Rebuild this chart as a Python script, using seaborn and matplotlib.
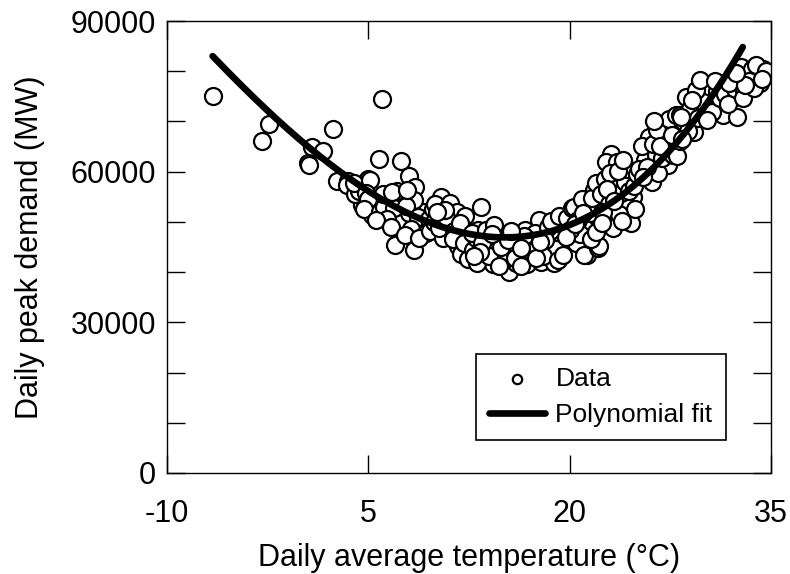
import numpy as np
import pandas as pd
import matplotlib
matplotlib.use("Agg")
import matplotlib.pyplot as plt
import seaborn as sns

# ---- data ----
temp = [
    -6.6, -2.4, -2.9, 0.8, 1.6, 0.5, 0.6, 2.4,
    2.7, 3.5, 3.4, 5.0, 4.6, 4.5, 4.0, 4.3, 3.9, 5.1, 4.8, 5.3, 5.0, 4.7,
    6.0, 5.8, 7.4, 8.0, 8.5, 5.9, 6.6, 7.5, 7.0, 7.5, 7.3, 7.0, 8.4, 8.0, 9.1, 9.0, 8.4, 6.2,
    6.9, 7.8, 8.7, 9.5, 9.8, 6.4, 8.2, 9.3, 7.1, 6.1, 5.6, 6.7,
    7.7, 8.8, 9.6, 6.8, 7.9,
    10.4, 10.0, 11.1, 11.1, 9.9, 10.6, 11.6, 11.7, 11.9, 10.3, 10.8, 11.4, 12.0, 11.3, 10.7,
    12.2, 12.5, 12.1, 11.8, 10.1,
    12.4, 12.8, 13.0, 13.4, 13.2, 13.6, 13.9, 14.3, 14.1, 14.5, 14.8, 15.0, 15.2, 15.5, 15.3,
    15.8, 16.0, 16.2, 16.5, 16.7, 16.9, 17.1, 17.3, 17.6, 17.7, 17.9, 18.1, 18.3, 18.5, 18.7,
    18.9, 19.1, 19.3, 19.4, 19.6, 12.7, 13.1, 13.8, 14.6, 15.1, 15.7, 16.3, 16.8, 17.4, 17.9,
    18.4, 18.8, 19.0, 14.0, 16.1, 17.0, 15.9, 13.5, 14.9, 18.0, 18.6, 19.2, 17.2, 16.6, 14.4,
    13.3, 14.2, 15.4, 16.4, 17.5, 18.2, 12.9, 14.7, 15.6, 16.4, 17.8, 19.1,
    19.5, 19.8, 20.2, 20.3, 20.5, 21.3, 21.1, 22.1, 22.2, 21.2, 22.1, 20.8, 20.0, 21.5, 20.6,
    21.8, 21.2, 20.9, 21.6, 22.0, 19.7, 20.4, 21.0, 21.7, 22.0,
    23.1, 22.7, 23.5, 22.6, 23.4, 22.3, 24.7, 24.2, 24.6, 24.9, 23.2, 22.9, 23.8, 23.0, 22.8,
    24.1, 23.7, 24.4, 22.5, 23.9, 24.3, 23.3, 22.4, 24.8, 25.0, 23.6, 24.0,
    26.1, 25.6, 25.9, 26.8, 27.3, 25.4, 26.4, 25.2, 26.6, 27.0, 27.5, 27.8, 26.2, 25.8, 27.1,
    26.9, 27.7, 28.0, 25.5, 26.5, 27.4, 28.2, 27.9, 26.3, 26.7, 27.6,
    28.2, 28.7, 29.3, 30.0, 30.4, 30.9, 31.4, 28.5, 29.0, 29.6, 29.9, 30.6, 29.4, 28.8, 31.0,
    30.2, 31.2, 29.7, 28.4, 30.8, 28.3, 29.1,
    31.6, 32.1, 32.6, 32.8, 33.2, 33.6, 34.0, 34.4, 32.3, 31.9, 33.0, 33.9, 32.5, 34.2, 31.8,
    33.4, 34.6, 32.9, 33.7, 33.1, 32.4, 34.3,
]
demand = [
    75000, 69400, 66200, 64900, 64200, 61800, 61400, 68400,
    58100, 58200, 57300, 58500, 57300, 53400, 55500, 56200, 57800, 58300, 55800, 51300, 54600, 52500,
    74400, 62600, 62100, 59100, 57000, 51900, 54300, 54300, 51300, 49500, 50200, 45400, 44400, 51700,
    52000, 49300, 54300, 53000,
    52800, 53200, 51000, 50500, 52600, 50500, 48500, 47800, 56200, 55600, 50400, 49000,
    47300, 46800, 48200, 55900, 56300,
    55000, 53500, 53700, 51300, 50000, 46700, 52000, 45100, 43700, 48800, 50900, 48200, 49600,
    46500, 52300, 51200, 47800, 45800, 49700, 51900,
    42700, 44500, 46800, 53000, 48300, 43800, 45300, 41700, 46900, 44200, 42900, 47500, 45600,
    40100, 43500, 44800, 41900, 46200, 43300, 48300, 44900, 42600, 45700, 43900, 50300, 47600,
    44500, 42800, 46800, 45200, 43600, 47900, 43100, 45800, 49200, 47700, 41800, 48300, 47900,
    42400, 46800, 43900, 41700, 47800, 42100, 48900, 41900, 44600, 43300, 45100, 46400, 42900,
    45800, 45000, 43200, 50100, 51200, 44100, 47200, 49300,
    44100, 47600, 46300, 41300, 42900, 46400, 43300, 41200, 48100, 44700, 45900, 42400,
    43400, 50700, 52700, 53000, 45700, 43400, 43400, 44700, 45100, 48700, 50700, 47600, 48300,
    51800, 50300, 56300, 53000, 54500, 46500, 48000, 46900, 49500, 51700, 54800, 57800,
    63600, 61900, 61900, 58600, 57300, 55500, 55000, 53000, 49700, 52600, 48700, 53600, 55800,
    59800, 56600, 58000, 51500, 56200, 52000, 50100, 60600, 54200, 49800, 57200, 59500, 60200, 62400,
    58000, 62300, 66900, 67200, 61300, 65200, 63400, 60600, 59800, 64800, 65900, 68600, 65600,
    61000, 69100, 62700, 63300, 63200, 58900, 68300, 70500, 66200, 71200, 70100, 65100, 67400,
    71200, 74900, 67900, 75200, 76800, 73200, 71200, 69800, 72500, 70700, 73800, 71900, 76300,
    68000, 76000, 70200, 74600, 78300, 66500, 78100, 70900, 74200,
    75500, 78800, 77800, 80800, 79300, 80500, 79000, 80400, 76500, 77700, 76200, 81300, 70900,
    77600, 73400, 78100, 80000, 74700, 76700, 77200, 79600, 78500,
]

# points
curve_temp = [-6.6, -2.3, 0.7, 3.4, 6.9, 11.9, 14.9, 17.8, 22.3, 26.0, 29.8, 32.2, 32.9]
curve_demand = [83000, 71500, 65000, 59000, 52700, 47700, 47100, 47700, 53300, 60000, 70500, 82400, 85000]

x_ticks = [-10, 5, 20, 35]
y_ticks = [0, 10000, 20000, 30000, 40000, 50000, 60000, 70000, 80000, 90000]
y_labels = ["0", "", "", "30000", "", "", "60000", "", "", "90000"]

# ---- build ----
sns.set_style("ticks")
plt.rcParams["font.family"] = ["Liberation Sans", "DejaVu Sans"]
plt.rcParams["text.color"] = "black"
plt.rcParams["axes.labelcolor"] = "black"

df = pd.DataFrame({"temp": temp, "demand": demand})
coef = np.polyfit(curve_temp, curve_demand, 3)
tt = np.linspace(min(curve_temp), max(curve_temp), 200)
fit = pd.DataFrame({"temp": tt, "demand": np.polyval(coef, tt)})

fig = plt.figure(figsize=(7.9, 5.74), dpi=100)
ax = fig.add_axes([0.2114, 0.176, 0.9759 - 0.2114, 0.9634 - 0.176])

sns.scatterplot(data=df, x="temp", y="demand", ax=ax, s=150, marker="o",
                facecolor="white", edgecolor="black", linewidth=1.6, label="Data", zorder=2)
sns.lineplot(data=fit, x="temp", y="demand", ax=ax, color="black", linewidth=4.8,
             label="Polynomial fit", zorder=3)

ax.set_xlim(-10, 35)
ax.set_ylim(0, 90000)
ax.set_xticks(x_ticks)
ax.set_xticklabels([str(v) for v in x_ticks])
ax.set_yticks(y_ticks)
ax.set_yticklabels(y_labels)
ax.tick_params(direction="in", length=13, width=1.0, labelsize=22,
               top=True, right=True, colors="black")
ax.tick_params(axis="x", pad=19)
ax.tick_params(axis="y", pad=8)
for s in ax.spines.values():
    s.set_linewidth(1.0)
    s.set_color("black")

ax.set_xlabel("Daily average temperature (\u00b0C)", fontsize=22, labelpad=10, color="black")
ax.set_ylabel("Daily peak demand (MW)", fontsize=22, labelpad=18, color="black")

leg = ax.legend(loc="lower left", bbox_to_anchor=(0.512, 0.073), borderaxespad=0,
                fontsize=19, frameon=True, fancybox=False, edgecolor="black",
                handlelength=2.1, markerscale=0.55, borderpad=0.5, labelspacing=0.45,
                handletextpad=0.4)
leg.get_frame().set_linewidth(1.2)
leg.get_frame().set_alpha(1)
for t in leg.get_texts():
    t.set_color("black")

fig.savefig("out.png", dpi=100)
